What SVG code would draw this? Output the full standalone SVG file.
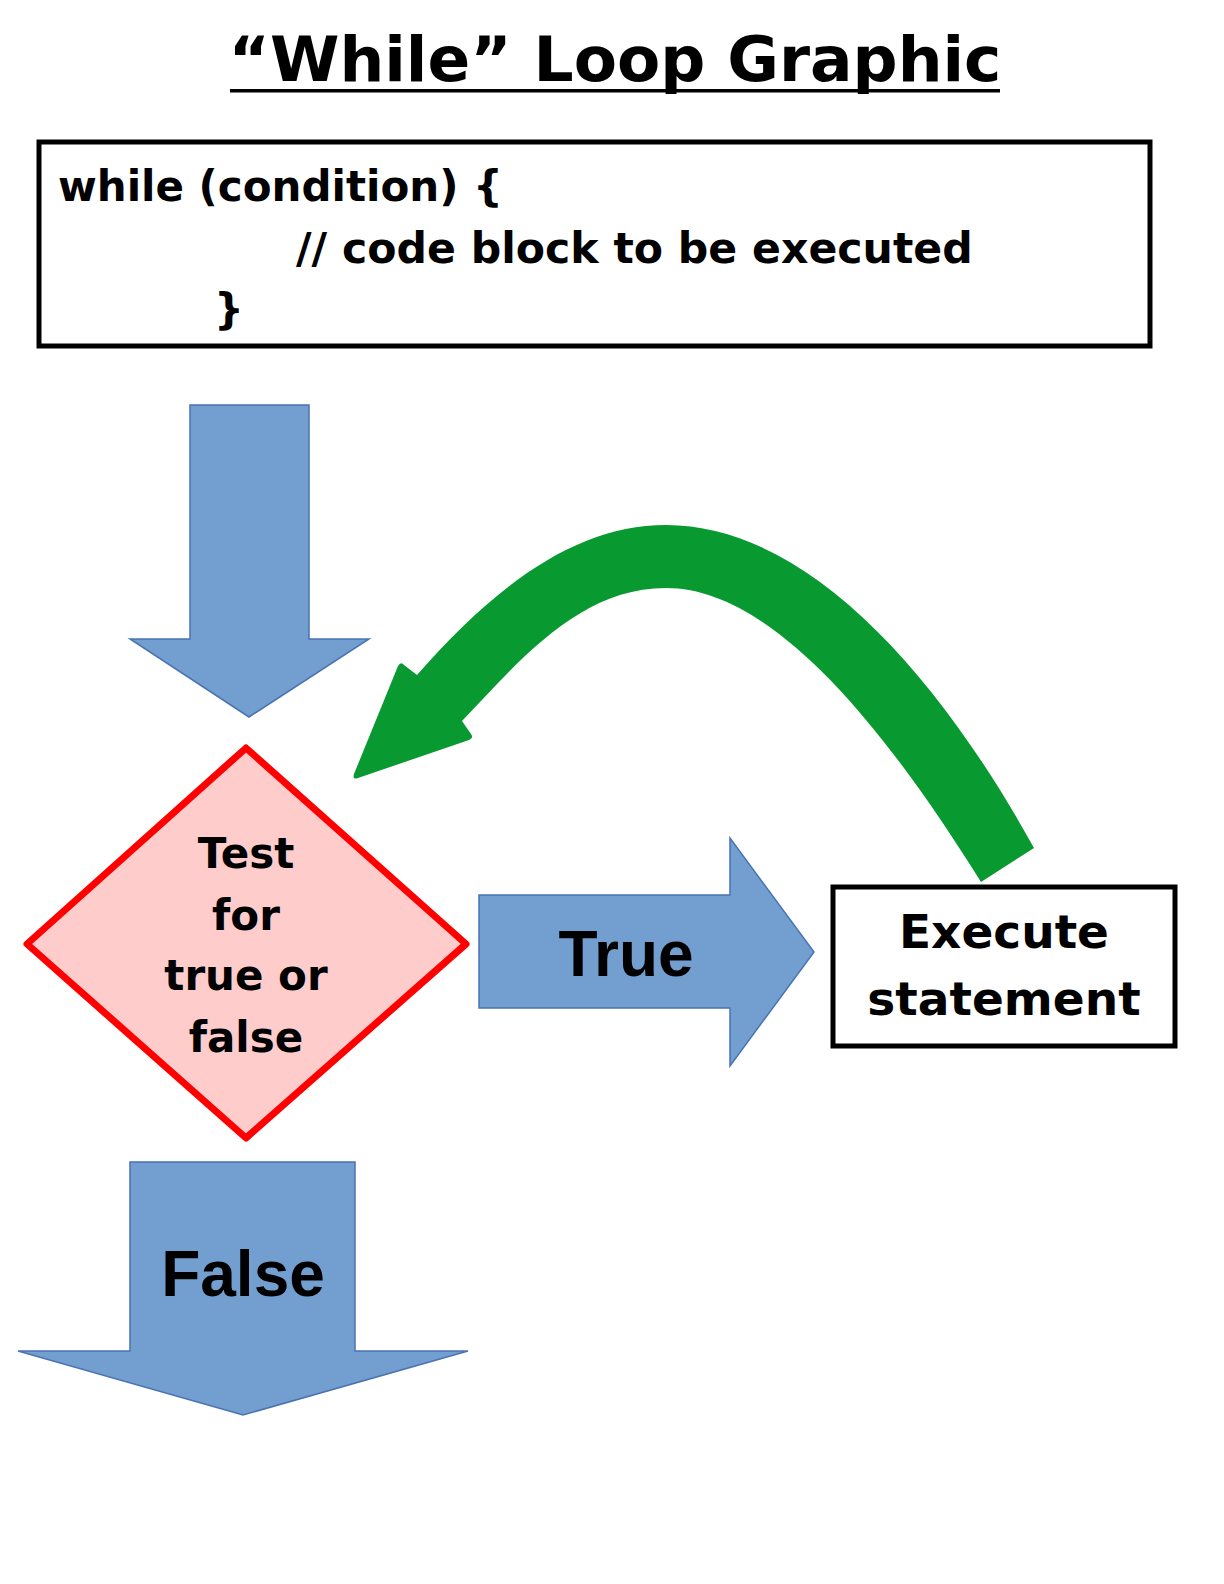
<svg xmlns="http://www.w3.org/2000/svg" width="1224" height="1584" viewBox="0 0 1224 1584">
<style>
.bold { font-family: "DejaVu Sans", Verdana, sans-serif; font-weight: bold; fill: #000; }
.arial { font-family: "Liberation Sans", Arial, sans-serif; font-weight: bold; fill: #000; }
.blue { fill: #729fcf; stroke: #4a73b3; stroke-width: 1.5; stroke-linejoin: miter; }
.box { fill: #fff; stroke: #000; stroke-width: 5; }
</style>
<rect width="1224" height="1584" fill="#fff"/>
<g id="title">
  <text class="bold" x="615" y="81" font-size="63" text-anchor="middle">“While” Loop Graphic</text>
  <rect x="230" y="89" width="770" height="3.5" fill="#000"/>
</g>
<g id="code">
  <rect class="box" x="39" y="142" width="1111" height="204"/>
  <text class="bold" x="58" y="201" font-size="42">while (condition) {</text>
  <text class="bold" x="296" y="263" font-size="42.6">// code block to be executed</text>
  <text class="bold" x="214" y="324" font-size="42">}</text>
</g>
<g id="connectors">
  <polygon id="arrow-in" class="blue" points="190,405 309,405 309,639 369,639 249,717 130,639 190,639"/>
  <g id="arrow-true">
    <polygon class="blue" points="479,895 730,895 730,838 814,952 730,1066 730,1008 479,1008"/>
    <text class="arial" x="626" y="976" font-size="64" text-anchor="middle">True</text>
  </g>
  <g id="arrow-false">
    <polygon class="blue" points="130,1162 355,1162 355,1351 468,1351 243,1415 18,1351 130,1351"/>
    <text class="arial" x="243" y="1296" font-size="64" text-anchor="middle">False</text>
  </g>
  <path id="loop-back" fill="#089a30"
    d="M 981 882 C 880 720 770 588 666 588 C 580 588 520 660 462 721 L 471 734 Q 474 738 469 740 L 358 778 Q 352 780 354 774 L 398 666 Q 401 661 404 665 L 417 675 C 500 580 580 525 666 525 C 800 525 930 660 1034 848 Z"/>
</g>
<g id="decision">
  <polygon points="246,748 466,944 246,1138 27,944" fill="#ffcccc" stroke="#ff0000" stroke-width="7" stroke-linejoin="round"/>
  <text class="bold" x="246" y="868" font-size="42" text-anchor="middle">Test</text>
  <text class="bold" x="246" y="930" font-size="42" text-anchor="middle">for</text>
  <text class="bold" x="246" y="990" font-size="42" text-anchor="middle">true or</text>
  <text class="bold" x="246" y="1052" font-size="42" text-anchor="middle">false</text>
</g>
<g id="execute">
  <rect class="box" x="833" y="887" width="342" height="159"/>
  <text class="bold" x="1004" y="948" font-size="47" text-anchor="middle">Execute</text>
  <text class="bold" x="1004" y="1015" font-size="47" text-anchor="middle">statement</text>
</g>
</svg>
